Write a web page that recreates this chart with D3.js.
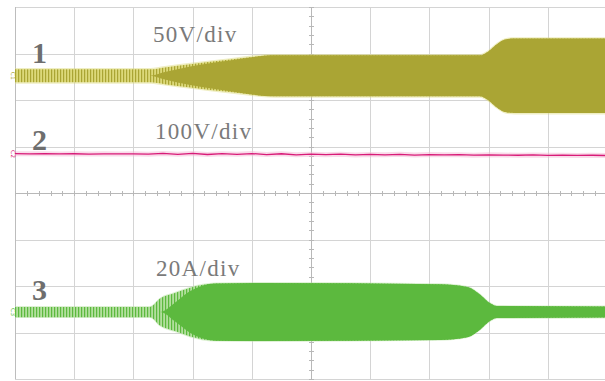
<!DOCTYPE html>
<html>
<head>
<meta charset="utf-8">
<script src="https://cdn.jsdelivr.net/npm/d3@7"></script>
<style>
  html, body { margin: 0; padding: 0; background: #fff; }
  svg { display: block; }
</style>
</head>
<body>
<svg id="scope" width="605" height="381"></svg>
<script>
// ---- Channel 1: output voltage envelope (peak, V), 50 V/div ----
const ch1Time = [0, 2.28, 2.53, 2.96, 3.63, 4.39, 7.85, 7.99, 8.14, 8.28, 8.45, 10];
const ch1Peak = [7, 7, 9, 12.5, 17.5, 22, 22, 26, 34, 39, 40, 40];
const ch1Core = [0, 0, 4, 10, 16.5, 22, 22, 26, 34, 39, 40, 40];

// ---- Channel 2: DC bus voltage ripple (V), 100 V/div ----
const ch2Time = [0, 0.25, 0.5, 0.75, 1, 1.25, 1.5, 1.75, 2, 2.25, 2.5, 2.75, 3, 3.25, 3.5, 3.75,
  4, 4.25, 4.5, 4.75, 5, 5.25, 5.5, 5.75, 6, 6.25, 6.5, 6.75, 7, 7.25, 7.5, 7.75,
  8, 8.25, 8.5, 8.75, 9, 9.25, 9.5, 9.75, 10];
const ch2Val = [0.5, 0.2, 0.6, 0.1, 0.4, -0.2, 0.3, 0.0, 0.2, -0.4, 1.2, -0.8, 1.0, -1.2, 0.6, -0.9,
  0.8, -1.4, 0.4, -1.8, -0.6, -1.6, -0.5, -2.2, -1.0, -1.8, -0.9, -2.4, -1.3, -2.0, -1.6, -2.6,
  -2.0, -2.4, -2.8, -2.2, -3.0, -2.6, -3.2, -2.8, -3.4];

// ---- Channel 3: inductor current envelope (peak, A), 20 A/div ----
const ch3Time = [0, 2.28, 2.45, 2.70, 2.96, 3.38, 4.14, 7.18, 7.64, 7.85, 8.02, 8.14, 10];
const ch3Peak = [2.2, 2.2, 5.8, 8.2, 10.5, 12.3, 12.5, 12, 10.8, 7.7, 3.9, 2.6, 2.4];
const ch3Core = [0, 0, 0, 4, 9, 12.3, 12.5, 12, 10.8, 7.7, 3.9, 2.6, 2.4];

// Channel settings: vertical position (div), scale (unit/div), labels
const channels = [
  { id: "1", scale: 50, offset: 2.52, label: "50V/div", color: "#aaa534", light: "#dcd97a" },
  { id: "2", scale: 100, offset: 0.84, label: "100V/div", color: "#d81b78", light: "#f3b7d3" },
  { id: "3", scale: 20, offset: -2.56, label: "20A/div", color: "#5cb93e", light: "#b3df9e" }
];

const svg = d3.select("#scope");

// Screen: 10 horizontal divisions, 8 vertical divisions
const x = d3.scaleLinear().domain([0, 10]).range([15, 607]);
const y = d3.scaleLinear().domain([-4, 4]).range([379, 7]);

// Stripe patterns for the low-amplitude sections where single cycles are visible
const defs = svg.append("defs");
channels.forEach(c => {
  const p = defs.append("pattern")
    .attr("id", "stripes" + c.id)
    .attr("patternUnits", "userSpaceOnUse")
    .attr("width", 3).attr("height", 6);
  p.append("rect").attr("width", 3).attr("height", 6).attr("fill", c.light);
  p.append("rect").attr("width", 1.2).attr("height", 6).attr("fill", c.color);
});

// Graticule
const grid = svg.append("g").attr("stroke", "#d4d4d4").attr("stroke-width", 1);
grid.selectAll("line.v").data(d3.range(0, 11)).join("line")
  .attr("x1", d => Math.round(x(d)) + 0.5).attr("x2", d => Math.round(x(d)) + 0.5)
  .attr("y1", y(4)).attr("y2", y(-4));
grid.selectAll("line.h").data(d3.range(-4, 5)).join("line")
  .attr("y1", d => Math.round(y(d)) + 0.5).attr("y2", d => Math.round(y(d)) + 0.5)
  .attr("x1", x(0)).attr("x2", x(10));
// Left screen edge
svg.append("line")
  .attr("x1", Math.round(x(0)) + 0.5).attr("x2", Math.round(x(0)) + 0.5)
  .attr("y1", y(4)).attr("y2", y(-4))
  .attr("stroke", "#bdbdbd");

// Centre axes with minor ticks
const cx = Math.round(x(5)) + 0.5, cy = Math.round(y(0)) + 0.5;
const axes = svg.append("g").attr("stroke", "#b8b8b8").attr("stroke-width", 1);
axes.append("line").attr("x1", cx).attr("x2", cx).attr("y1", y(4)).attr("y2", y(-4));
axes.append("line").attr("x1", x(0)).attr("x2", x(10)).attr("y1", cy).attr("y2", cy);
axes.selectAll("line.tx").data(d3.range(0, 10.01, 0.2)).join("line")
  .attr("x1", d => Math.round(x(d)) + 0.5).attr("x2", d => Math.round(x(d)) + 0.5)
  .attr("y1", cy - 2.5).attr("y2", cy + 2.5);
axes.selectAll("line.ty").data(d3.range(-4, 4.01, 0.2)).join("line")
  .attr("y1", d => Math.round(y(d)) + 0.5).attr("y2", d => Math.round(y(d)) + 0.5)
  .attr("x1", cx - 2.5).attr("x2", cx + 2.5);

// Envelope drawing helper (symmetric about channel offset)
function envelope(c, times, peaks) {
  const pts = times.map((t, i) => ({ t, a: peaks[i] }));
  return d3.area()
    .curve(d3.curveMonotoneX)
    .x(d => x(d.t))
    .y0(d => y(c.offset - d.a / c.scale))
    .y1(d => y(c.offset + d.a / c.scale))(pts);
}

// Channel 1
const c1 = channels[0];
svg.append("path").attr("d", envelope(c1, ch1Time, ch1Peak.map(v => v + 1.5)))
  .attr("fill", c1.light).attr("opacity", 0.45);
svg.append("path").attr("d", envelope(c1, ch1Time, ch1Peak)).attr("fill", "url(#stripes1)");
svg.append("path").attr("d", envelope(c1, ch1Time, ch1Core)).attr("fill", c1.color);

// Channel 3
const c3 = channels[2];
svg.append("path").attr("d", envelope(c3, ch3Time, ch3Peak.map(v => v + 0.4)))
  .attr("fill", c3.light).attr("opacity", 0.45);
svg.append("path").attr("d", envelope(c3, ch3Time, ch3Peak)).attr("fill", "url(#stripes3)");
svg.append("path").attr("d", envelope(c3, ch3Time, ch3Core)).attr("fill", c3.color);

// Channel 2 trace
const c2 = channels[1];
const line2 = d3.line()
  .x((t, i) => x(t))
  .y((t, i) => y(c2.offset + ch2Val[i] / c2.scale));
svg.append("path").attr("d", line2(ch2Time))
  .attr("fill", "none").attr("stroke", c2.light).attr("stroke-width", 5).attr("opacity", 0.5);
svg.append("path").attr("d", line2(ch2Time))
  .attr("fill", "none").attr("stroke", c2.color).attr("stroke-width", 1.3);

// Channel ground markers at the left edge
channels.forEach(c => {
  const yy = y(c.offset);
  svg.append("text")
    .attr("transform", `translate(11,${yy}) rotate(90)`)
    .attr("text-anchor", "middle")
    .attr("font-family", "DejaVu Sans")
    .attr("font-size", 6)
    .attr("fill", c.color)
    .text("C" + c.id);
});

// Channel numbers and scale labels
const labelPos = [
  { num: [32, 63], lab: [153, 42] },
  { num: [32, 150], lab: [155, 139] },
  { num: [32, 300], lab: [156, 276] }
];
channels.forEach((c, i) => {
  svg.append("text")
    .attr("x", labelPos[i].num[0]).attr("y", labelPos[i].num[1])
    .attr("font-family", "Liberation Serif")
    .attr("font-weight", "bold")
    .attr("font-size", 30)
    .attr("fill", "#6e6e6e")
    .text(c.id);
  svg.append("text")
    .attr("x", labelPos[i].lab[0]).attr("y", labelPos[i].lab[1])
    .attr("font-family", "Liberation Serif")
    .attr("font-size", 23)
    .attr("letter-spacing", 1.3)
    .attr("fill", "#7a7a7a")
    .text(c.label);
});
</script>
</body>
</html>
